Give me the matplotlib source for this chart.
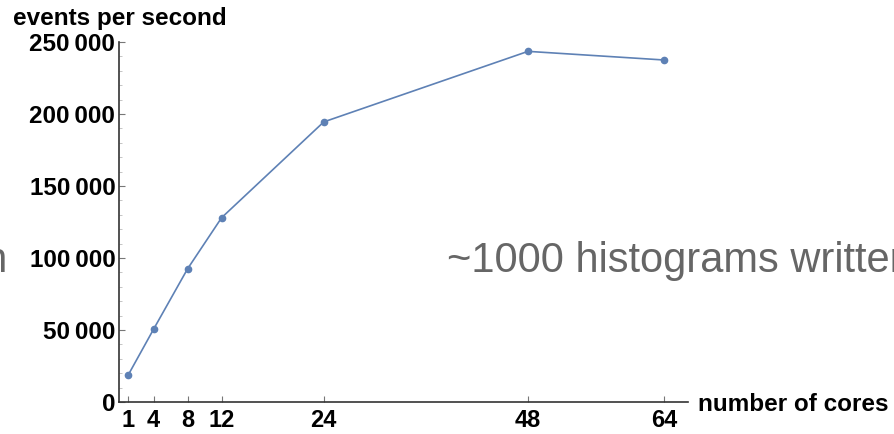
import matplotlib
matplotlib.use("Agg")
import matplotlib.pyplot as plt
from matplotlib.ticker import FixedLocator, MultipleLocator

plt.rcParams['font.family'] = ['Liberation Sans', 'DejaVu Sans']

cores = [1, 4, 8, 12, 24, 48, 64]
events = [18500, 50500, 92500, 128000, 194500, 243500, 237500]
y_ticks = [0, 50000, 100000, 150000, 200000, 250000]
y_tick_labels = ["0", "50\u2009000", "100\u2009000", "150\u2009000", "200\u2009000", "250\u2009000"]

W, H = 895, 434
fig = plt.figure(figsize=(W / 100, H / 100), dpi=100)
x0, x1, y0, y1 = 119.5, 688, 402, 42
ax = fig.add_axes([x0 / W, 1 - y0 / H, (x1 - x0) / W, (y0 - y1) / H])

color = "#5e81b5"
ax.plot(cores, events, color=color, lw=1.2, marker="o", ms=4.5, clip_on=False)

ax.set_xlim(0, 66.8)
ax.set_ylim(0, 250000)
ax.xaxis.set_major_locator(FixedLocator(cores))
ax.set_xticklabels([str(c) for c in cores], fontsize=17, fontweight="bold")
ax.yaxis.set_major_locator(FixedLocator(y_ticks))
ax.set_yticklabels(y_tick_labels, fontsize=17.5, fontweight="bold")
ax.yaxis.set_minor_locator(MultipleLocator(10000))

for s in ["top", "right"]:
    ax.spines[s].set_visible(False)
for s in ["left", "bottom"]:
    ax.spines[s].set_color("#333333")
    ax.spines[s].set_linewidth(1.2)

ax.tick_params(axis="both", which="major", direction="in", length=4, width=0.8, color="#777777")
ax.tick_params(axis="y", which="major", pad=3)
ax.tick_params(axis="x", which="major", pad=5)
ax.tick_params(axis="y", which="minor", direction="in", length=2, width=0.6, color="#bbbbbb")

fig.text(13 / W, 1 - 25 / H, "events per second", fontsize=17.5, fontweight="bold", ha="left", va="baseline")
fig.text(698 / W, 1 - 411 / H, "number of cores", fontsize=17.5, fontweight="bold", ha="left", va="baseline")

fig.text(447 / W, 1 - 272 / H, "~1000 histograms written", fontsize=30, color="#666666", ha="left", va="baseline")
fig.text(7 / W, 1 - 272 / H, "written", fontsize=30, color="#666666", ha="right", va="baseline")

fig.savefig("out.png", dpi=100)
